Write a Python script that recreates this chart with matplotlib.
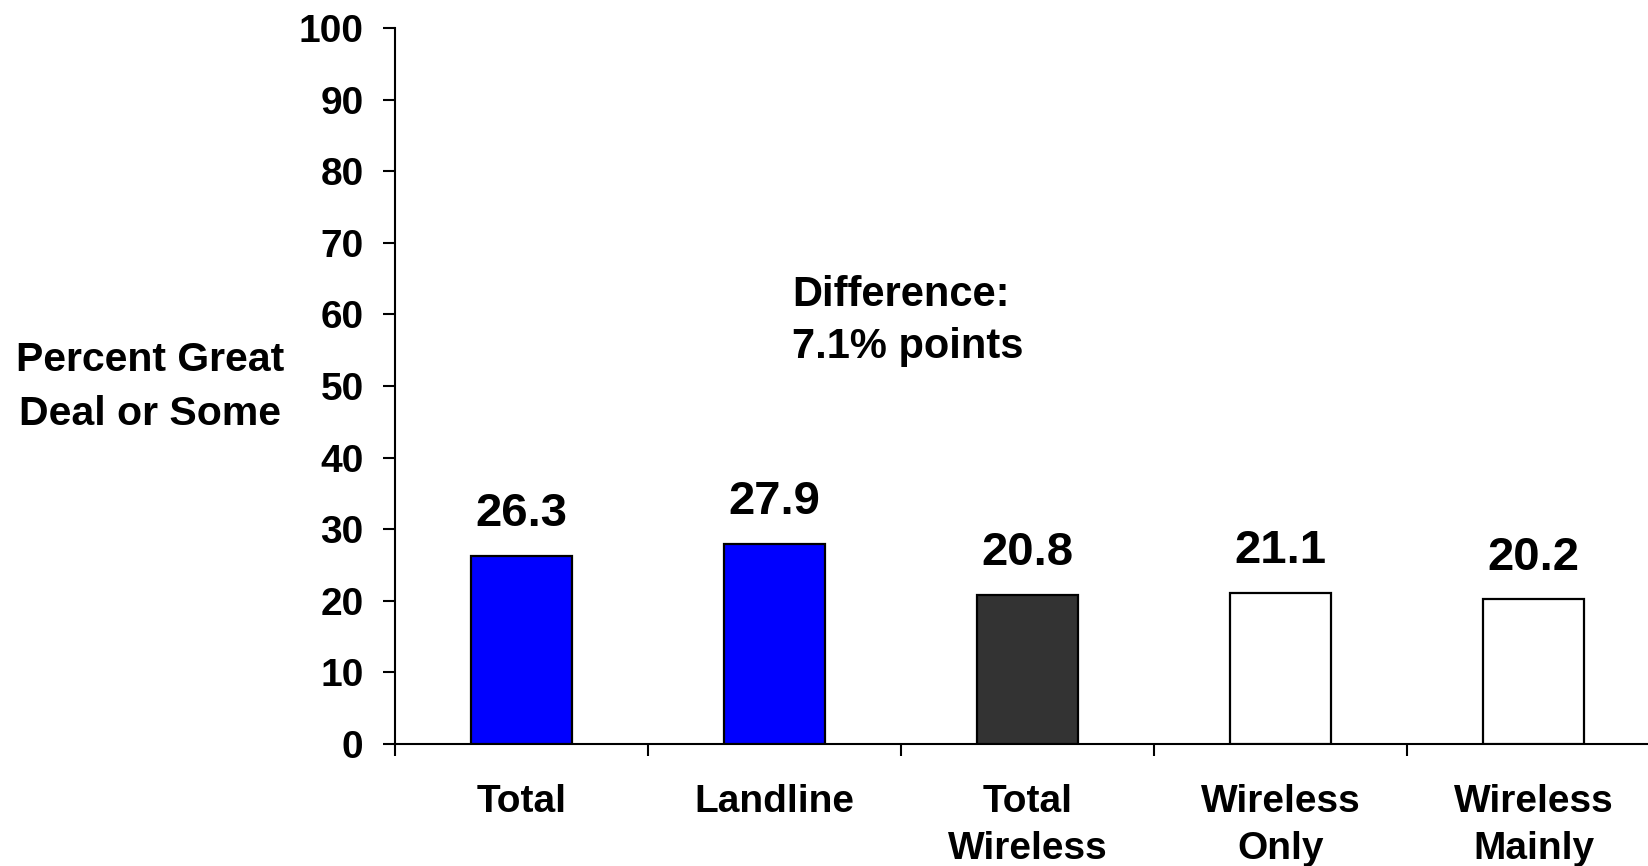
import matplotlib
matplotlib.use("Agg")
import matplotlib.pyplot as plt
from matplotlib.ticker import FixedLocator, NullFormatter

categories = ["Total", "Landline", "Total\nWireless", "Wireless\nOnly", "Wireless\nMainly"]
values = [26.3, 27.9, 20.8, 21.1, 20.2]
value_labels = ["26.3", "27.9", "20.8", "21.1", "20.2"]
colors = ["#0000FF", "#0000FF", "#333333", "#FFFFFF", "#FFFFFF"]
yticks = [0, 10, 20, 30, 40, 50, 60, 70, 80, 90, 100]
ylabel = "Percent Great\nDeal or Some"
note = "Difference:\n7.1% points"

plt.rcParams['font.family'] = ['Liberation Sans', 'DejaVu Sans']
plt.rcParams['font.weight'] = 'bold'

W, H = 1648, 866
fig = plt.figure(figsize=(W / 100, H / 100), dpi=100)
ax = fig.add_axes([395 / W, 1 - 744 / H, 1265 / W, (744 - 28) / H])

x = list(range(len(categories)))
ax.bar(x, values, width=0.4, color=colors, edgecolor="black", linewidth=1.6, zorder=3)

ax.set_xlim(-0.5, len(categories) - 0.5)
ax.set_ylim(0, 100)
ax.set_yticks(yticks)
ax.set_yticklabels([str(t) for t in yticks], fontsize=28, fontweight='bold')
ax.tick_params(axis='y', direction='out', length=8.6, width=1.5, pad=14)

ax.set_xticks(x)
ax.set_xticklabels(categories, fontsize=28, fontweight='bold', linespacing=1.38)
ax.tick_params(axis='x', which='major', length=0, pad=29)
ax.xaxis.set_minor_locator(FixedLocator([i - 0.5 for i in range(len(categories) + 1)]))
ax.xaxis.set_minor_formatter(NullFormatter())
ax.tick_params(axis='x', which='minor', direction='out', length=8.6, width=1.5)

for s in ['top', 'right']:
    ax.spines[s].set_visible(False)
for s in ['left', 'bottom']:
    ax.spines[s].set_linewidth(1.5)

for xi, v, lab in zip(x, values, value_labels):
    ax.annotate(lab, xy=(xi, v), xytext=(0, 21.5), textcoords='offset points',
                ha='center', va='baseline', fontsize=34, fontweight='bold')

fig.text(792 / W, 1 - 358 / H, note, ha='left', va='baseline',
         fontsize=30, fontweight='bold', linespacing=1.4)

fig.text(150 / W, 1 - 387 / H, ylabel, ha='center', va='center', multialignment='center',
         fontsize=29.5, fontweight='bold', linespacing=1.52)

fig.savefig("out.png", dpi=100)
